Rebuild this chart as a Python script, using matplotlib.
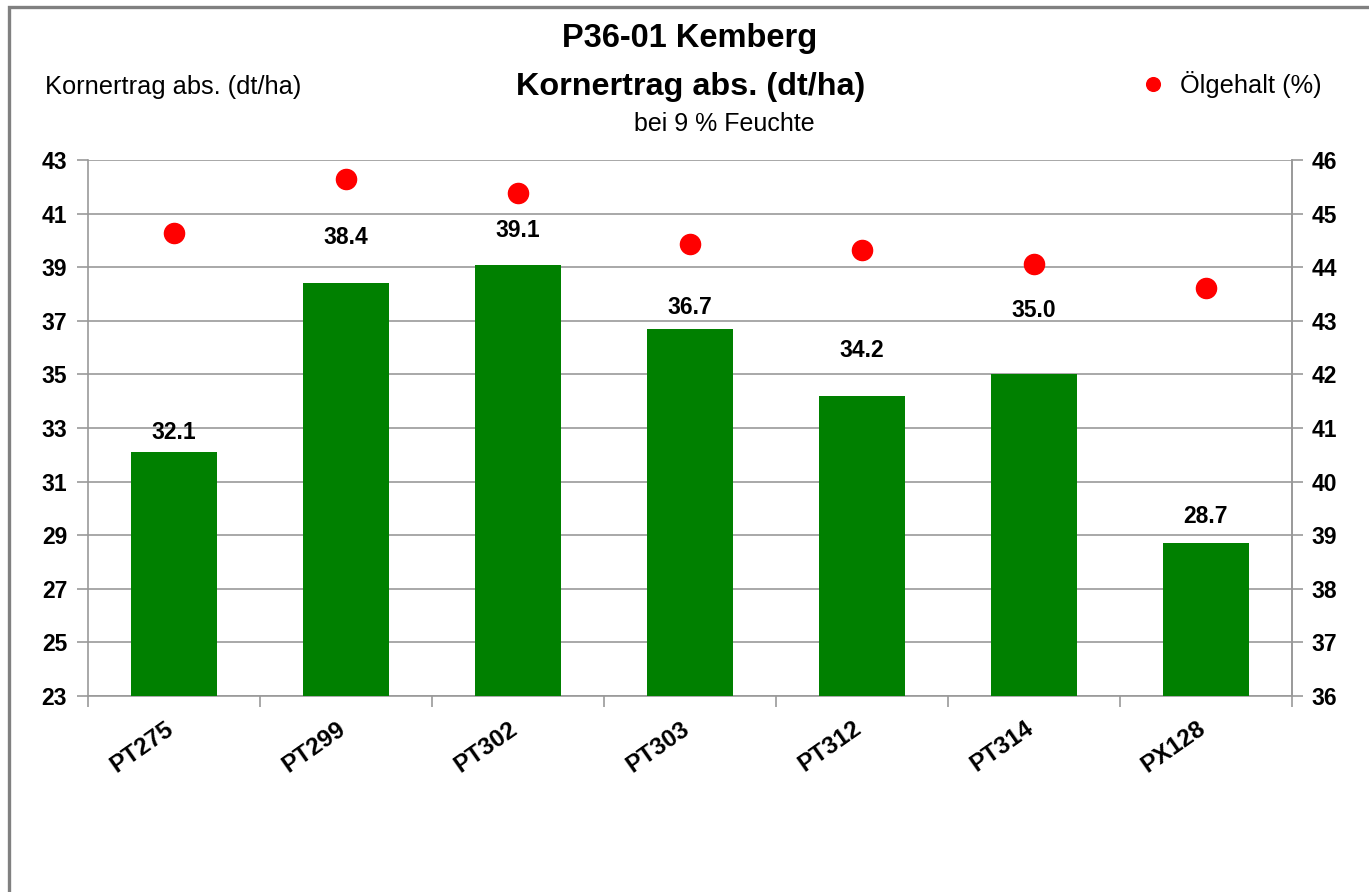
import matplotlib
matplotlib.use("Agg")
import matplotlib.pyplot as plt
from matplotlib.patches import Rectangle
import numpy as np

plt.rcParams['font.family'] = ['Liberation Sans', 'DejaVu Sans']

categories = ["PT275", "PT299", "PT302", "PT303", "PT312", "PT314", "PX128"]
ertrag = [32.1, 38.4, 39.1, 36.7, 34.2, 35.0, 28.7]
oelgehalt = [44.64, 45.65, 45.38, 44.43, 44.32, 44.06, 43.61]
left_ticks = [23, 25, 27, 29, 31, 33, 35, 37, 39, 41, 43]
right_ticks = [36, 37, 38, 39, 40, 41, 42, 43, 44, 45, 46]
label_offsets_px = [20, 46, 34, 21, 45, 64, 27]

W, H = 1369, 892
fig = plt.figure(figsize=(W / 100, H / 100), dpi=100)
fig.patch.set_facecolor('white')

# outer frame
fig.add_artist(Rectangle((8.5 / W, -0.1), 2.0, 1.1 - 7.0 / H,
                         transform=fig.transFigure, fill=False,
                         edgecolor='#808080', lw=2.4))

ax = fig.add_axes([88 / W, 1 - 696 / H, (1292 - 88) / W, (696 - 160) / H])
x = np.arange(len(categories))
ax.bar(x, ertrag, width=0.5, color='#008000', zorder=3)
ax.set_xlim(-0.5, len(categories) - 0.5)
ax.set_ylim(23, 43)
ax.set_yticks(left_ticks)
ax.set_yticklabels([str(t) for t in left_ticks], fontsize=16.5, fontweight='bold')
ax.yaxis.grid(True, color='#999999', lw=1.2, zorder=0)
ax.set_axisbelow(True)

ax.set_xticks(np.arange(len(categories) + 1) - 0.5)
ax.set_xticklabels([])
# category labels, nudged slightly left of the bar centres (as in the original)
ax.set_xticks(x - 0.055, minor=True)
ax.set_xticklabels(categories, minor=True, rotation=35, ha='right',
                   rotation_mode='anchor', fontsize=17.5, fontweight='bold')
ax.tick_params(axis='x', which='minor', length=0, pad=15)
ax.tick_params(axis='x', which='major', length=8, color='#999999', width=1.2, direction='out')
ax.tick_params(axis='y', length=8, color='#999999', width=1.2, pad=7)
ax.spines['top'].set_visible(False)
for s in ['left', 'bottom', 'right']:
    ax.spines[s].set_color('#999999')
    ax.spines[s].set_linewidth(1.2)

for xi, v, off in zip(x, ertrag, label_offsets_px):
    ax.annotate(f"{v:.1f}", (xi, v), xytext=(0, off * 0.72), textcoords='offset points',
                ha='center', va='center', fontsize=16.5, fontweight='bold')

ax2 = ax.twinx()
ax2.set_ylim(36, 46)
ax2.set_yticks(right_ticks)
ax2.set_yticklabels([str(t) for t in right_ticks], fontsize=16.5, fontweight='bold')
ax2.tick_params(axis='y', length=8, color='#999999', width=1.2, pad=6)
for s in ['top', 'left', 'bottom']:
    ax2.spines[s].set_visible(False)
ax2.spines['right'].set_color('#999999')
ax2.spines['right'].set_linewidth(1.2)
ax2.plot(x, oelgehalt, 'o', color='#FF0000', ms=14.5, zorder=5, label='Ölgehalt (%)')

fig.text(690 / W, 1 - 38 / H, "P36-01 Kemberg", ha='center', va='center',
         fontsize=23.5, fontweight='bold')
fig.text(691 / W, 1 - 87 / H, "Kornertrag abs. (dt/ha)", ha='center', va='center',
         fontsize=23.3, fontweight='bold')
fig.text(724 / W, 1 - 124 / H, "bei 9 % Feuchte", ha='center', va='center', fontsize=18)
fig.text(45 / W, 1 - 87 / H, "Kornertrag abs. (dt/ha)", ha='left', va='center', fontsize=18.3)

fig.legend(loc='center left', bbox_to_anchor=(1128 / W, 1 - 84 / H), frameon=False,
           fontsize=18.3, handletextpad=0.06, markerscale=0.68, borderpad=0, borderaxespad=0)

fig.savefig("out.png", dpi=100)
